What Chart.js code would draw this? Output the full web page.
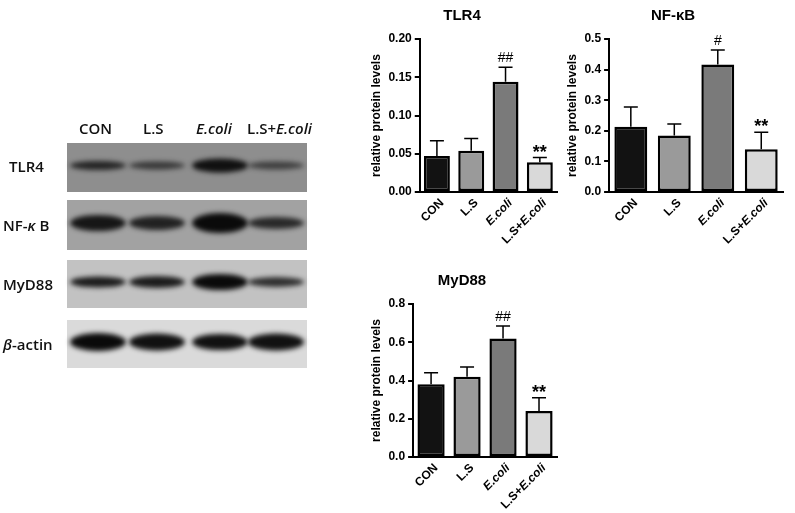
<!DOCTYPE html>
<html><head><meta charset="utf-8">
<script src="https://cdn.jsdelivr.net/npm/chart.js@4"></script>
<style>
body{margin:0;background:#fff;width:795px;height:513px;position:relative;overflow:hidden;font-family:Arial,"Liberation Sans",sans-serif}
.c{position:absolute}
.lab{position:absolute;font-family:"Open Sans",Arial,sans-serif;font-size:15px;font-weight:600;color:#111}
</style></head><body>
<canvas id="blot" class="c" style="left:0;top:0" width="360" height="400"></canvas>
<div class="lab" style="left:79px;top:118px">CON</div>
<div class="lab" style="left:143px;top:118px">L.S</div>
<div class="lab" style="left:196px;top:118px"><i>E.coli</i></div>
<div class="lab" style="left:247px;top:118px">L.S+<i>E.coli</i></div>
<div class="lab" style="left:9px;top:156px">TLR4</div>
<div class="lab" style="left:3px;top:215px">NF-<i>κ</i> B</div>
<div class="lab" style="left:3px;top:274px">MyD88</div>
<div class="lab" style="left:3px;top:334px"><i>β</i>-actin</div>
<div class="c" style="left:367px;top:1px;width:196px;height:256px"><canvas id="c1"></canvas></div>
<div class="c" style="left:563px;top:1px;width:226px;height:256px"><canvas id="c2"></canvas></div>
<div class="c" style="left:367px;top:266px;width:196px;height:256px"><canvas id="c3"></canvas></div>
<script>
const categories=["CON","L.S","E.coli","L.S+E.coli"];
const tlr4Mean=[0.047,0.054,0.144,0.039];
const tlr4Err=[0.020,0.016,0.019,0.006];
const tlr4Sig=["","","##","**"];
const nfkbMean=[0.213,0.185,0.417,0.140];
const nfkbErr=[0.065,0.037,0.047,0.055];
const nfkbSig=["","","#","**"];
const myd88Mean=[0.38,0.42,0.62,0.24];
const myd88Err=[0.06,0.05,0.065,0.07];
const myd88Sig=["","","##","**"];
const barColors=["#121212","#9a9a9a","#7a7a7a","#d9d9d9"];

(function(){
  const ctx=document.getElementById('blot').getContext('2d');
  const panels=[[143,192],[200,250],[260,308],[320,368]];
  const lanes=[98,157,220,276];
  const inten=[[0.8,0.65,0.95,0.6],[0.92,0.85,1,0.8],[0.9,0.9,1,0.8],[1,0.97,0.97,0.97]];
  const bh=[[9,8,14,8],[16,14,20,12],[11,12,16,10],[18,17,16,17]];
  const bg=["#8e8e8e","#a2a2a2","#c2c2c2","#dadada"];
  panels.forEach((p,i)=>{
    ctx.fillStyle=bg[i];ctx.fillRect(67,p[0],240,p[1]-p[0]);
    const cy=(p[0]+p[1])/2-2;
    ctx.save();ctx.filter='blur(2.5px)';
    lanes.forEach((x,j)=>{
      ctx.fillStyle='rgba(10,10,10,'+inten[i][j]+')';
      ctx.beginPath();ctx.ellipse(x,cy,28,bh[i][j]/2,0,0,Math.PI*2);ctx.fill();
    });
    ctx.restore();
  });
})();

const errPlugin={id:'err',afterDatasetsDraw(chart,args,opts){
  const ctx=chart.ctx,meta=chart.getDatasetMeta(0),y=chart.scales.y;
  ctx.save();ctx.strokeStyle='#000';ctx.lineWidth=1.5;
  meta.data.forEach((b,i)=>{
    const top=y.getPixelForValue(opts.mean[i]+opts.err[i]);
    ctx.beginPath();ctx.moveTo(b.x,b.y);ctx.lineTo(b.x,top);
    ctx.moveTo(b.x-7,top);ctx.lineTo(b.x+7,top);ctx.stroke();
    if(opts.sig[i]){
      ctx.fillStyle='#000';ctx.textAlign='center';ctx.textBaseline='bottom';
      ctx.font=opts.sig[i]=='**'?'bold 18px Arial':'14px Arial';
      ctx.fillText(opts.sig[i],b.x,top-(opts.sig[i]=='**'?-4:2));
    }
  });
  const xs=chart.scales.x;
  categories.forEach((c,i)=>{
    const x=xs.getPixelForValue(i);
    ctx.save();ctx.translate(x+5,xs.top+9);ctx.rotate(-Math.PI/4);
    ctx.textBaseline='middle';ctx.fillStyle='#000';
    let parts=c==="E.coli"?[["E.coli",1]]:c==="L.S+E.coli"?[["L.S+",0],["E.coli",1]]:[[c,0]];
    let w=0;const f=it=>(it?'italic ':'')+'bold 12px Arial';
    parts.forEach(p=>{ctx.font=f(p[1]);w+=ctx.measureText(p[0]).width;});
    let cx=-w;ctx.textAlign='left';
    parts.forEach(p=>{ctx.font=f(p[1]);ctx.fillText(p[0],cx,0);cx+=ctx.measureText(p[0]).width;});
    ctx.restore();
  });
  ctx.restore();
}};

function make(id,title,mean,err,sig,max,step,dec){
  new Chart(document.getElementById(id),{type:'bar',
    data:{labels:categories,datasets:[{data:mean,backgroundColor:barColors,borderColor:'#000',borderWidth:2.5,borderSkipped:false,categoryPercentage:0.84,barPercentage:0.9}]},
    options:{responsive:true,maintainAspectRatio:false,animation:false,
      layout:{padding:{top:2,right:6}},
      plugins:{legend:{display:false},tooltip:{enabled:false},
        title:{display:true,text:title,color:'#000',font:{size:15,weight:'bold',family:'Arial'},padding:{top:4,bottom:14}},
        err:{mean,err,sig}},
      scales:{
        x:{grid:{display:false},border:{color:'#000',width:2},
           ticks:{color:'rgba(0,0,0,0)',maxRotation:45,minRotation:45,font:{size:12,weight:'bold'}}},
        y:{min:0,max:max,grid:{drawOnChartArea:false,color:'#000',lineWidth:2,tickLength:5},border:{color:'#000',width:2},
           ticks:{stepSize:step,color:'#000',font:{size:12,weight:'bold',family:'Arial'},callback:v=>v.toFixed(dec)},
           title:{display:true,text:'relative protein levels',color:'#000',font:{size:12,weight:'bold',family:'Arial'},padding:2}}}},
    plugins:[errPlugin]});
}
make('c1','TLR4',tlr4Mean,tlr4Err,tlr4Sig,0.2,0.05,2);
make('c2','NF-κB',nfkbMean,nfkbErr,nfkbSig,0.5,0.1,1);
make('c3','MyD88',myd88Mean,myd88Err,myd88Sig,0.8,0.2,1);
</script></body></html>
